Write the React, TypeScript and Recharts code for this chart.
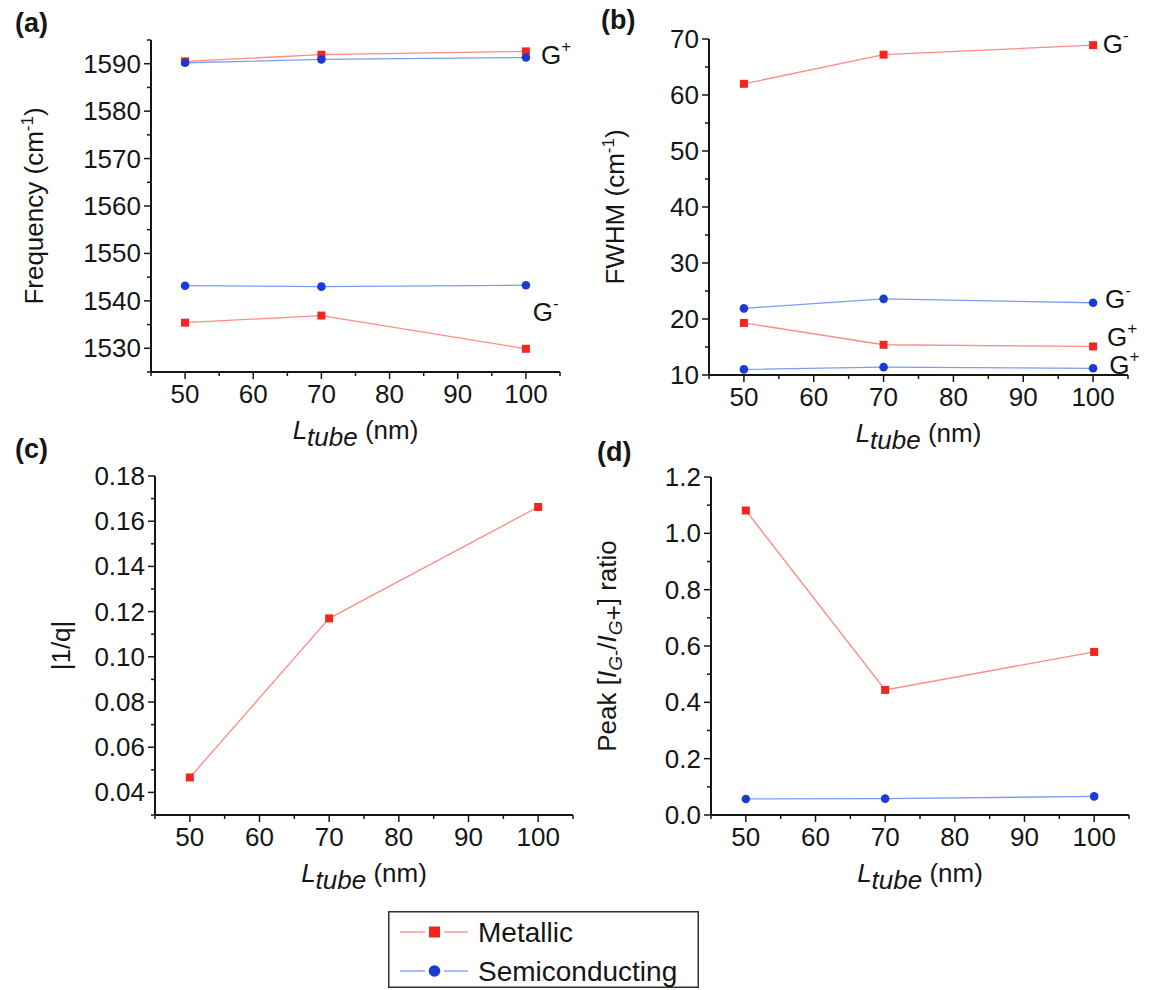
import React from "react";
import { LineChart, Line, XAxis, YAxis, ReferenceDot } from "recharts";

// tube length (nm) for every measurement
const lengths = [50, 70, 100];

// (a) G-band frequencies, cm^-1
const freqMetallicGplus = [1590.5, 1591.9, 1592.6];
const freqSemiGplus = [1590.2, 1590.9, 1591.3];
const freqSemiGminus = [1543.2, 1543.0, 1543.3];
const freqMetallicGminus = [1535.4, 1536.9, 1529.9];

// (b) line widths, cm^-1
const fwhmMetallicGminus = [62.0, 67.2, 68.9];
const fwhmSemiGminus = [21.9, 23.6, 22.9];
const fwhmMetallicGplus = [19.3, 15.4, 15.1];
const fwhmSemiGplus = [11.0, 11.4, 11.2];

// (c) Fano parameter
const invQMetallic = [0.0466, 0.117, 0.1663];

// (d) intensity ratio
const ratioMetallic = [1.081, 0.444, 0.579];
const ratioSemi = [0.057, 0.058, 0.066];

// axis ticks: all marks, and the ones that carry a number
const xTicks = [45, 50, 55, 60, 65, 70, 75, 80, 85, 90, 95, 100, 105];
const xLabels = [50, 60, 70, 80, 90, 100];
const freqTicks = [1525, 1530, 1535, 1540, 1545, 1550, 1555, 1560, 1565, 1570, 1575, 1580, 1585, 1590, 1595];
const freqLabels = [1530, 1540, 1550, 1560, 1570, 1580, 1590];
const fwhmTicks = [10, 15, 20, 25, 30, 35, 40, 45, 50, 55, 60, 65, 70];
const fwhmLabels = [10, 20, 30, 40, 50, 60, 70];
const invQTicks = [0.03, 0.04, 0.05, 0.06, 0.07, 0.08, 0.09, 0.1, 0.11, 0.12, 0.13, 0.14, 0.15, 0.16, 0.17, 0.18];
const invQLabels = [0.04, 0.06, 0.08, 0.1, 0.12, 0.14, 0.16, 0.18];
const ratioTicks = [0, 0.1, 0.2, 0.3, 0.4, 0.5, 0.6, 0.7, 0.8, 0.9, 1.0, 1.1, 1.2];
const ratioLabels = [0, 0.2, 0.4, 0.6, 0.8, 1.0, 1.2];

const INK = "#161616";
const FONT = '"Liberation Sans", Arial, Helvetica, sans-serif';
const RED = "#f3261f";
const RED_LINE = "#ff8a86";
const BLUE = "#1a3cd4";
const BLUE_LINE = "#7d9df2";

const series = [
  { name: "Metallic", color: RED, line: RED_LINE, shape: "square" },
  { name: "Semiconducting", color: BLUE, line: BLUE_LINE, shape: "circle" },
];

const freqRows = lengths.map((L, i) => ({
  L,
  mGp: freqMetallicGplus[i],
  sGp: freqSemiGplus[i],
  sGm: freqSemiGminus[i],
  mGm: freqMetallicGminus[i],
}));
const fwhmRows = lengths.map((L, i) => ({
  L,
  mGm: fwhmMetallicGminus[i],
  sGm: fwhmSemiGminus[i],
  mGp: fwhmMetallicGplus[i],
  sGp: fwhmSemiGplus[i],
}));
const invQRows = lengths.map((L, i) => ({ L, m: invQMetallic[i] }));
const ratioRows = lengths.map((L, i) => ({ L, m: ratioMetallic[i], s: ratioSemi[i] }));

const squareDot = (p: any) => (
  <rect key={`sq-${p.index}`} x={p.cx - 4} y={p.cy - 4} width={8} height={8} fill={RED} />
);
const roundDot = (p: any) => <circle key={`ci-${p.index}`} cx={p.cx} cy={p.cy} r={4.3} fill={BLUE} />;

function AxisTick({ x = 0, y = 0, payload, side, majors, decimals }: any) {
  const v = payload ? payload.value : 0;
  const major = majors.some((m: number) => Math.abs(m - v) < 1e-6);
  const len = major ? 7 : 4;
  const label = major ? v.toFixed(decimals) : null;
  if (side === "left") {
    return (
      <g>
        <line x1={x} x2={x - len} y1={y} y2={y} stroke={INK} strokeWidth={1.5} />
        {label && (
          <text x={x - 10} y={y} textAnchor="end" dominantBaseline="central" fontSize={26} fontFamily={FONT} fill={INK}>
            {label}
          </text>
        )}
      </g>
    );
  }
  return (
    <g>
      <line x1={x} x2={x} y1={y} y2={y + len} stroke={INK} strokeWidth={1.5} />
      {label && (
        <text x={x} y={y + 31} textAnchor="middle" fontSize={26} fontFamily={FONT} fill={INK}>
          {label}
        </text>
      )}
    </g>
  );
}

function XTitle({ viewBox }: any) {
  const cx = viewBox.x + viewBox.width / 2;
  const y = viewBox.y + 67;
  return (
    <text x={cx} y={y} textAnchor="middle" fontSize={26} fontFamily={FONT} fill={INK}>
      <tspan fontStyle="italic">L</tspan>
      <tspan dy={7} fontStyle="italic">tube</tspan>
      <tspan dy={-7}> (nm)</tspan>
    </text>
  );
}

function YTitle({ viewBox, gap, body }: any) {
  const bx = viewBox.x + viewBox.width - gap;
  const cy = viewBox.y + viewBox.height / 2;
  return (
    <text
      x={bx}
      y={cy}
      transform={`rotate(-90, ${bx}, ${cy})`}
      textAnchor="middle"
      fontSize={26}
      fontFamily={FONT}
      fill={INK}
    >
      {body}
    </text>
  );
}

function GMark({ viewBox, sign }: any) {
  return (
    <text x={viewBox.x} y={viewBox.y} fontSize={26} fontFamily={FONT} fill={INK}>
      G
      <tspan dy={-12} fontSize={17}>
        {sign}
      </tspan>
    </text>
  );
}

const axisLine = { stroke: INK, strokeWidth: 2 };

function xAxisFor(height: number) {
  return (
    <XAxis
      dataKey="L"
      type="number"
      domain={[45, 105]}
      ticks={xTicks}
      interval={0}
      height={height}
      axisLine={axisLine}
      tickLine={false}
      tickSize={0}
      tickMargin={0}
      tick={<AxisTick side="bottom" majors={xLabels} decimals={0} />}
      label={<XTitle />}
    />
  );
}

const cmInv = (head: string) => (
  <>
    {head} (cm
    <tspan dy={-10} fontSize={17}>
      -1
    </tspan>
    <tspan dy={10}>)</tspan>
  </>
);

const peakTitle = (
  <>
    Peak [<tspan fontStyle="italic">I</tspan>
    <tspan dy={6} fontSize={19} fontStyle="italic">
      G
    </tspan>
    <tspan fontSize={19}>-</tspan>
    <tspan dy={-6}>/</tspan>
    <tspan fontStyle="italic">I</tspan>
    <tspan dy={6} fontSize={19} fontStyle="italic">
      G
    </tspan>
    <tspan>+</tspan>
    <tspan dy={-6}>] ratio</tspan>
  </>
);

function FrequencyPanel() {
  return (
    <LineChart width={590} height={460} data={freqRows} margin={{ top: 40, right: 30, bottom: 0, left: 0 }}>
      {xAxisFor(88)}
      <YAxis
        type="number"
        domain={[1525, 1595]}
        ticks={freqTicks}
        interval={0}
        width={151}
        axisLine={axisLine}
        tickLine={false}
        tickSize={0}
        tickMargin={0}
        tick={<AxisTick side="left" majors={freqLabels} decimals={0} />}
        label={<YTitle gap={108} body={cmInv("Frequency")} />}
      />
      <Line dataKey="mGp" stroke={RED_LINE} strokeWidth={1.3} dot={squareDot} activeDot={false} isAnimationActive={false} />
      <Line dataKey="sGp" stroke={BLUE_LINE} strokeWidth={1.3} dot={roundDot} activeDot={false} isAnimationActive={false} />
      <Line dataKey="sGm" stroke={BLUE_LINE} strokeWidth={1.3} dot={roundDot} activeDot={false} isAnimationActive={false} />
      <Line dataKey="mGm" stroke={RED_LINE} strokeWidth={1.3} dot={squareDot} activeDot={false} isAnimationActive={false} />
      <ReferenceDot x={102.2} y={1590} r={0} ifOverflow="visible" label={<GMark sign="+" />} />
      <ReferenceDot x={101.0} y={1535.8} r={0} ifOverflow="visible" label={<GMark sign="-" />} />
    </LineChart>
  );
}

function WidthPanel() {
  return (
    <LineChart width={566} height={460} data={fwhmRows} margin={{ top: 39, right: 28, bottom: 0, left: 0 }}>
      {xAxisFor(85)}
      <YAxis
        type="number"
        domain={[10, 70]}
        ticks={fwhmTicks}
        interval={0}
        width={119}
        axisLine={axisLine}
        tickLine={false}
        tickSize={0}
        tickMargin={0}
        tick={<AxisTick side="left" majors={fwhmLabels} decimals={0} />}
        label={<YTitle gap={85} body={cmInv("FWHM")} />}
      />
      <Line dataKey="mGm" stroke={RED_LINE} strokeWidth={1.3} dot={squareDot} activeDot={false} isAnimationActive={false} />
      <Line dataKey="sGm" stroke={BLUE_LINE} strokeWidth={1.3} dot={roundDot} activeDot={false} isAnimationActive={false} />
      <Line dataKey="mGp" stroke={RED_LINE} strokeWidth={1.3} dot={squareDot} activeDot={false} isAnimationActive={false} />
      <Line dataKey="sGp" stroke={BLUE_LINE} strokeWidth={1.3} dot={roundDot} activeDot={false} isAnimationActive={false} />
      <ReferenceDot x={101.4} y={67.5} r={0} ifOverflow="visible" label={<GMark sign="-" />} />
      <ReferenceDot x={101.7} y={22.0} r={0} ifOverflow="visible" label={<GMark sign="-" />} />
      <ReferenceDot x={102.0} y={15.1} r={0} ifOverflow="visible" label={<GMark sign="+" />} />
      <ReferenceDot x={102.3} y={10.2} r={0} ifOverflow="visible" label={<GMark sign="+" />} />
    </LineChart>
  );
}

function FanoPanel() {
  return (
    <LineChart width={590} height={455} data={invQRows} margin={{ top: 31, right: 17, bottom: 0, left: 0 }}>
      {xAxisFor(85)}
      <YAxis
        type="number"
        domain={[0.03, 0.18]}
        ticks={invQTicks}
        interval={0}
        width={155}
        axisLine={axisLine}
        tickLine={false}
        tickSize={0}
        tickMargin={0}
        tick={<AxisTick side="left" majors={invQLabels} decimals={2} />}
        label={<YTitle gap={85} body="|1/q|" />}
      />
      <Line dataKey="m" stroke={RED_LINE} strokeWidth={1.3} dot={squareDot} activeDot={false} isAnimationActive={false} />
    </LineChart>
  );
}

function RatioPanel() {
  return (
    <LineChart width={566} height={455} data={ratioRows} margin={{ top: 32, right: 27, bottom: 0, left: 0 }}>
      {xAxisFor(85)}
      <YAxis
        type="number"
        domain={[0, 1.2]}
        ticks={ratioTicks}
        interval={0}
        width={121}
        axisLine={axisLine}
        tickLine={false}
        tickSize={0}
        tickMargin={0}
        tick={<AxisTick side="left" majors={ratioLabels} decimals={1} />}
        label={<YTitle gap={95} body={peakTitle} />}
      />
      <Line dataKey="m" stroke={RED_LINE} strokeWidth={1.3} dot={squareDot} activeDot={false} isAnimationActive={false} />
      <Line dataKey="s" stroke={BLUE_LINE} strokeWidth={1.3} dot={roundDot} activeDot={false} isAnimationActive={false} />
    </LineChart>
  );
}

function SeriesKey() {
  return (
    <svg width={311} height={77} style={{ display: "block" }}>
      <rect x={0.75} y={0.75} width={309.5} height={75.5} fill="#fff" stroke="#333" strokeWidth={1.5} />
      {series.map((s, i) => {
        const cy = 21 + i * 39;
        return (
          <g key={s.name}>
            <line x1={12} x2={37} y1={cy} y2={cy} stroke={s.line} strokeWidth={1.3} />
            <line x1={56} x2={80} y1={cy} y2={cy} stroke={s.line} strokeWidth={1.3} />
            {s.shape === "square" ? (
              <rect x={41} y={cy - 5.5} width={11} height={11} fill={s.color} />
            ) : (
              <circle cx={46.5} cy={cy} r={5.8} fill={s.color} />
            )}
            <text x={90} y={cy + 10} fontSize={28} fontFamily={FONT} fill={INK}>
              {s.name}
            </text>
          </g>
        );
      })}
    </svg>
  );
}

const tag: React.CSSProperties = {
  position: "absolute",
  fontFamily: FONT,
  fontWeight: "bold",
  fontSize: 27,
  lineHeight: "27px",
  color: INK,
};

export default function App() {
  return (
    <div style={{ position: "absolute", left: 0, top: 0, width: 1156, height: 990, background: "#fff" }}>
      <div style={{ position: "absolute", left: 0, top: 0 }}>
        <FrequencyPanel />
      </div>
      <div style={{ position: "absolute", left: 590, top: 0 }}>
        <WidthPanel />
      </div>
      <div style={{ position: "absolute", left: 0, top: 445 }}>
        <FanoPanel />
      </div>
      <div style={{ position: "absolute", left: 590, top: 445 }}>
        <RatioPanel />
      </div>
      <div style={{ ...tag, left: 15, top: 10 }}>(a)</div>
      <div style={{ ...tag, left: 601, top: 7 }}>(b)</div>
      <div style={{ ...tag, left: 15, top: 436 }}>(c)</div>
      <div style={{ ...tag, left: 597, top: 439 }}>(d)</div>
      <div style={{ position: "absolute", left: 388, top: 911 }}>
        <SeriesKey />
      </div>
    </div>
  );
}
